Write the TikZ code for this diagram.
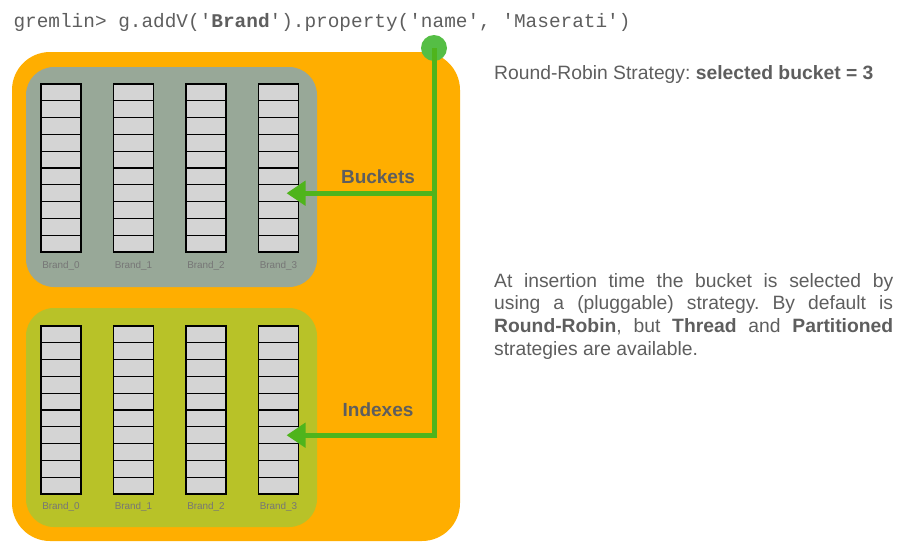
\documentclass[tikz,border=0pt]{standalone}
\usepackage{fontspec}
\setmainfont{Liberation Sans}
\setmonofont{Liberation Mono}
\usetikzlibrary{arrows.meta}
\definecolor{boxorange}{HTML}{FFAE00}
\definecolor{bucketgrey}{HTML}{98A898}
\definecolor{indexolive}{HTML}{B8C228}
\definecolor{cellgrey}{HTML}{D4D4D4}
\definecolor{wiregreen}{HTML}{4FB41C}
\definecolor{dotgreen}{HTML}{55BE45}
\definecolor{txtgrey}{HTML}{5E5E5E}
\frenchspacing

\begin{document}
\begin{tikzpicture}[x=1pt,y=-1pt,
    cell/.style={draw=black,fill=cellgrey,line width=1.3pt,minimum width=40pt,
      minimum height=16.8pt,inner sep=0pt,outer sep=0pt},
    brand/.style={font=\fontsize{9.9}{11}\selectfont,text=txtgrey!85},
    wire/.style={draw=wiregreen,line width=5pt},
    tag/.style={font=\fontsize{19}{22}\selectfont\bfseries,text=txtgrey}]
  \useasboundingbox (0,0) rectangle (906,558);
  % containers
  \fill[boxorange,rounded corners=38pt] (12,52) rectangle (460,541);
  \fill[bucketgrey,rounded corners=28pt] (26,67) rectangle (317,287);
  \fill[indexolive,rounded corners=28pt] (26,308) rectangle (317,527);
  % bucket and index columns
  \foreach \c in {0,...,3} {
    \foreach \r in {0,...,9} {
      \node[cell] (up-\c-\r) at (61+72.5*\c, 92.4+16.8*\r) {};
      \node[cell] (low-\c-\r) at (61+72.5*\c, 334.4+16.8*\r) {};
    }
    \node[brand] (upname-\c) at (61+72.5*\c, 266) {Brand\_\c};
    \node[brand] (lowname-\c) at (61+72.5*\c, 507) {Brand\_\c};
  }
  % command and strategy
  \node[anchor=west,font=\fontsize{19.4}{22}\selectfont\ttfamily,text=txtgrey] (cmd) at (10,22)
    {gremlin> g.addV('\textbf{Brand}').property('name', 'Maserati')};
  \node[circle,fill=dotgreen,minimum size=26pt,inner sep=0pt] (dot) at (434,48) {};
  \draw[wire,-{Triangle[length=19pt,width=24pt]}] (dot.center) |- ([xshift=8pt]low-3-6.center);
  \draw[wire,-{Triangle[length=19pt,width=24pt]}] (dot.center |- up-3-6) -- ([xshift=8pt]up-3-6.center);
  \node[tag] (buckets) at (378,177) {Buckets};
  \node[tag] (indexes) at (378,410) {Indexes};
  \node[anchor=west,font=\fontsize{19.3}{22}\selectfont,text=txtgrey,inner sep=0pt] (rr) at (494,75)
    {Round-Robin Strategy: \textbf{selected bucket = 3}};
  \node[anchor=north west,text width=399pt,align=justify,inner sep=0pt,text=txtgrey,
    font=\fontsize{19.3}{22.7}\selectfont] (note) at (494,273)
    {At insertion time the bucket is selected by\linebreak using a (pluggable) strategy. By default is\linebreak
     \textbf{Round-Robin}, but \textbf{Thread} and \textbf{Partitioned}\linebreak strategies are available.};
\end{tikzpicture}
\end{document}
